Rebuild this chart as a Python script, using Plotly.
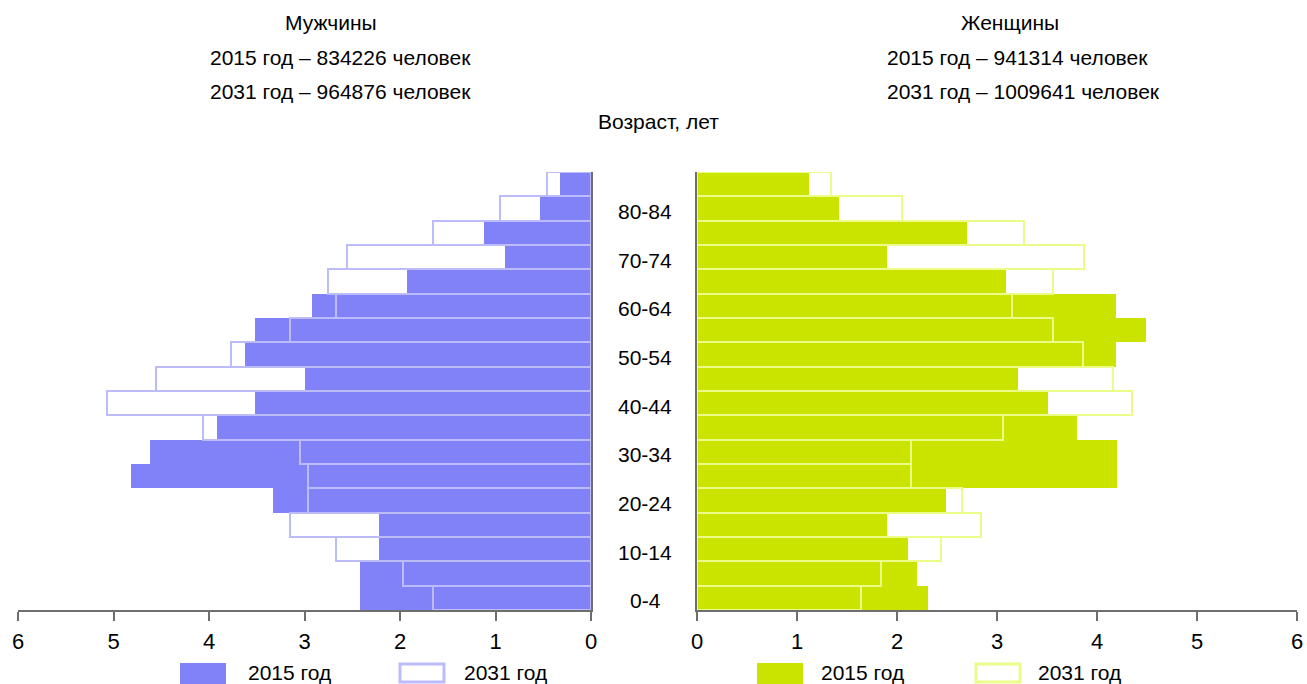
import plotly.graph_objects as go

W, H = 1307, 684

age_groups = ["0-4", "5-9", "10-14", "15-19", "20-24", "25-29", "30-34", "35-39",
              "40-44", "45-49", "50-54", "55-59", "60-64", "65-69", "70-74",
              "75-79", "80-84", "85+"]
age_tick_labels = ["0-4", "10-14", "20-24", "30-34", "40-44", "50-54", "60-64", "70-74", "80-84"]

# percent of population, listed from 0-4 up to 85+
men_2015 = [2.42, 2.42, 2.22, 2.22, 3.33, 4.82, 4.62, 3.92, 3.52, 3.00,
            3.62, 3.52, 2.92, 1.93, 0.90, 1.12, 0.53, 0.32]
men_2031 = [1.65, 1.97, 2.67, 3.15, 2.96, 2.96, 3.05, 4.06, 5.07, 4.55,
            3.77, 3.15, 2.67, 2.75, 2.56, 1.65, 0.95, 0.46]
women_2015 = [2.31, 2.20, 2.11, 1.90, 2.49, 4.20, 4.20, 3.80, 3.51, 3.21,
              4.19, 4.49, 4.19, 3.09, 1.90, 2.70, 1.42, 1.12]
women_2031 = [1.64, 1.84, 2.44, 2.84, 2.65, 2.14, 2.14, 3.06, 4.35, 4.16,
              3.86, 3.56, 3.15, 3.56, 3.87, 3.27, 2.05, 1.34]

title_men = ["Мужчины", "2015 год – 834226 человек", "2031 год – 964876 человек"]
title_women = ["Женщины", "2015 год – 941314 человек", "2031 год – 1009641 человек"]
legend_labels = ["2015 год", "2031 год"]
axis_title = "Возраст, лет"

MEN_FILL = "#8282f8"
MEN_LINE = "#bcbcfc"
WOM_FILL = "#cae400"
WOM_LINE = "#ecfc88"
FONT = "Liberation Sans, Arial, sans-serif"
AXC = "#6e6e6e"
FS = 21

def px(x):
    return x / W

def py(y):
    return 1 - y / H

fig = go.Figure()

fig.add_trace(go.Bar(y=age_groups, x=men_2015, orientation="h", xaxis="x", yaxis="y",
                     marker=dict(color=MEN_FILL, line=dict(width=0)), showlegend=False))
fig.add_trace(go.Bar(y=age_groups, x=men_2031, orientation="h", xaxis="x", yaxis="y",
                     marker=dict(color="rgba(0,0,0,0)", line=dict(color=MEN_LINE, width=2)),
                     showlegend=False))
fig.add_trace(go.Bar(y=age_groups, x=women_2015, orientation="h", xaxis="x2", yaxis="y2",
                     marker=dict(color=WOM_FILL, line=dict(width=0)), showlegend=False))
fig.add_trace(go.Bar(y=age_groups, x=women_2031, orientation="h", xaxis="x2", yaxis="y2",
                     marker=dict(color="rgba(0,0,0,0)", line=dict(color=WOM_LINE, width=2)),
                     showlegend=False))

ydom = [py(610), py(172)]
common_x = dict(showgrid=False, zeroline=False, showline=True, linecolor=AXC, linewidth=1.5,
                ticks="outside", ticklen=9, tickcolor=AXC, tickwidth=1.5, dtick=1,
                tickfont=dict(size=22, color="#000", family=FONT), ticklabelstandoff=2,
                automargin=False)
common_y = dict(showgrid=False, zeroline=False, showline=True, linecolor=AXC, linewidth=1.5,
                showticklabels=False, ticks="", type="category",
                categoryorder="array", categoryarray=age_groups,
                range=[-0.5, len(age_groups) - 0.5], domain=ydom, automargin=False)

fig.update_layout(
    width=W, height=H, autosize=False,
    margin=dict(l=0, r=0, t=0, b=0, pad=0, autoexpand=False),
    paper_bgcolor="white", plot_bgcolor="white",
    barmode="overlay", bargap=0,
    font=dict(family=FONT, size=FS, color="#000"),
    xaxis=dict(domain=[px(18), px(591)], range=[6, 0], anchor="y", **common_x),
    yaxis=dict(anchor="x", side="right", **common_y),
    xaxis2=dict(domain=[px(697), px(1297)], range=[0, 6], anchor="y2", **common_x),
    yaxis2=dict(anchor="x2", side="left", **common_y),
)

ann = []
# age labels in the middle column
for lab in age_tick_labels:
    ann.append(dict(text=lab, xref="paper", yref="y2", x=px(645), y=lab, yshift=-3,
                    xanchor="center", yanchor="middle", showarrow=False,
                    font=dict(size=FS, family=FONT)))
ann.append(dict(text=axis_title, xref="paper", yref="paper", x=px(658), y=py(122),
                xanchor="center", yanchor="middle", showarrow=False, font=dict(size=FS)))

title_y = [22, 57, 91]
ann.append(dict(text=title_men[0], xref="paper", yref="paper", x=px(331), y=py(title_y[0]),
                xanchor="center", yanchor="middle", showarrow=False, font=dict(size=FS)))
ann.append(dict(text=title_women[0], xref="paper", yref="paper", x=px(1010), y=py(title_y[0]),
                xanchor="center", yanchor="middle", showarrow=False, font=dict(size=FS)))
for i in (1, 2):
    ann.append(dict(text=title_men[i], xref="paper", yref="paper", x=px(208), y=py(title_y[i]),
                    xanchor="left", yanchor="middle", showarrow=False, font=dict(size=FS)))
    ann.append(dict(text=title_women[i], xref="paper", yref="paper", x=px(885), y=py(title_y[i]),
                    xanchor="left", yanchor="middle", showarrow=False, font=dict(size=FS)))

# custom legends (wide swatches)
shapes = []
leg_y0, leg_y1 = 663, 684
legend_items = [
    (180, MEN_FILL, None, legend_labels[0], 246),
    (399, "white", MEN_LINE, legend_labels[1], 462),
    (757, WOM_FILL, None, legend_labels[0], 819),
    (975, "white", WOM_LINE, legend_labels[1], 1036),
]
for x0, fill, line, lab, tx in legend_items:
    shapes.append(dict(type="rect", xref="paper", yref="paper",
                       x0=px(x0 + (1 if line else 0)), x1=px(x0 + 46 - (1 if line else 0)),
                       y0=py(leg_y1 - (2 if line else 0)), y1=py(leg_y0 + (1 if line else 0)),
                       fillcolor=fill,
                       line=dict(color=line if line else fill, width=3 if line else 0)))
    ann.append(dict(text=lab, xref="paper", yref="paper", x=px(tx), y=py(672),
                    xanchor="left", yanchor="middle", showarrow=False, font=dict(size=FS)))

fig.update_layout(annotations=ann, shapes=shapes)

fig.write_html(
    "out.html",
    config={"responsive": False, "displayModeBar": False},
    post_script="document.body.style.margin='0';document.body.style.overflow='hidden';",
)
